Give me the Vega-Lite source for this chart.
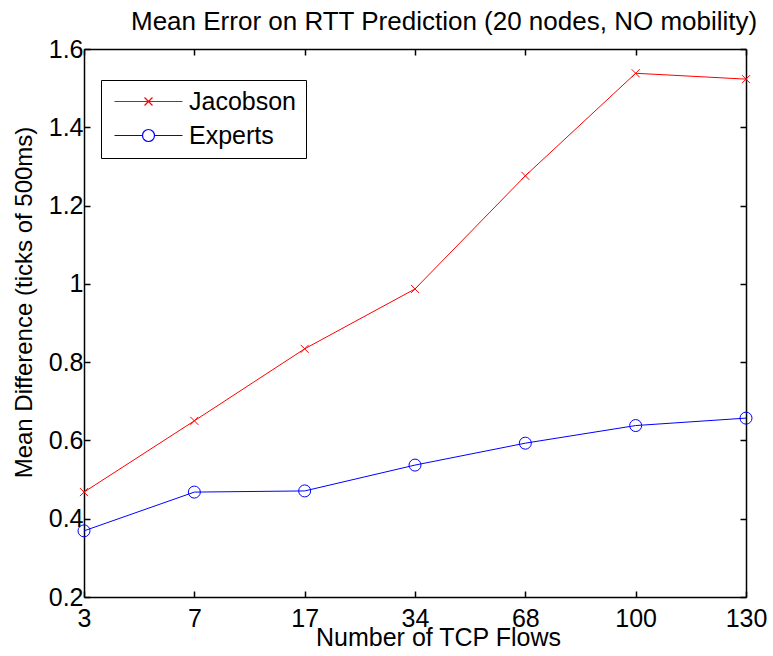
{
  "$schema": "https://vega.github.io/schema/vega-lite/v6.json",
  "autosize": {"type": "none"},
  "padding": {"left": 84, "top": 49, "right": 27, "bottom": 59},
  "width": 662,
  "height": 548,
  "background": "white",
  "title": {
    "text": "Mean Error on RTT Prediction (20 nodes, NO mobility)",
    "anchor": "start",
    "frame": "group",
    "dx": 47,
    "baseline": "alphabetic",
    "offset": -19,
    "font": "Liberation Sans",
    "fontSize": 26,
    "fontWeight": "normal",
    "color": "black"
  },
  "config": {
    "view": {"stroke": null},
    "font": "Liberation Sans",
    "axis": {
      "grid": false,
      "domainColor": "black",
      "domainWidth": 1.5,
      "tickColor": "black",
      "tickWidth": 1.5,
      "tickSize": -6,
      "labelFont": "Liberation Sans",
      "labelFontSize": 25,
      "labelColor": "black",
      "titleFont": "Liberation Sans",
      "titleFontSize": 25,
      "titleFontWeight": "normal",
      "titleColor": "black"
    },
    "legend": {
      "orient": "none",
      "legendX": 17,
      "legendY": 31,
      "strokeColor": "black",
      "fillColor": "white",
      "padding": 9,
      "labelFont": "Liberation Sans",
      "labelFontSize": 25,
      "labelColor": "black",
      "labelOffset": 28,
      "symbolOffset": 26,
      "symbolSize": 484,
      "symbolStrokeWidth": 1.2,
      "rowPadding": 8
    }
  },
  "data": {
    "values": [
      {"flows": "3", "series": "Jacobson", "value": 0.468},
      {"flows": "7", "series": "Jacobson", "value": 0.650},
      {"flows": "17", "series": "Jacobson", "value": 0.834},
      {"flows": "34", "series": "Jacobson", "value": 0.987},
      {"flows": "68", "series": "Jacobson", "value": 1.276},
      {"flows": "100", "series": "Jacobson", "value": 1.538},
      {"flows": "130", "series": "Jacobson", "value": 1.523},
      {"flows": "3", "series": "Experts", "value": 0.369},
      {"flows": "7", "series": "Experts", "value": 0.468},
      {"flows": "17", "series": "Experts", "value": 0.471},
      {"flows": "34", "series": "Experts", "value": 0.537},
      {"flows": "68", "series": "Experts", "value": 0.593},
      {"flows": "100", "series": "Experts", "value": 0.638},
      {"flows": "130", "series": "Experts", "value": 0.657}
    ]
  },
  "layer": [
    {
      "mark": {"type": "line", "strokeWidth": 1},
      "encoding": {
        "x": {
          "field": "flows",
          "type": "ordinal",
          "sort": ["3", "7", "17", "34", "68", "100", "130"],
          "scale": {"type": "point", "padding": 0},
          "axis": {
            "orient": "bottom",
            "labelAngle": 0,
            "labelPadding": 35,
            "labelBaseline": "alphabetic",
            "title": "Number of TCP Flows",
            "titleX": 354,
            "titleY": 48,
            "titleBaseline": "alphabetic",
            "titleAlign": "center",
            "titlePadding": 0
          }
        },
        "y": {
          "field": "value",
          "type": "quantitative",
          "scale": {"domain": [0.2, 1.6], "nice": false, "zero": false},
          "axis": {
            "orient": "left",
            "values": [0.2, 0.4, 0.6, 0.8, 1, 1.2, 1.4, 1.6],
            "format": "~g",
            "labelPadding": 7,
            "title": "Mean Difference (ticks of 500ms)",
            "titleFontSize": 24,
            "titleX": -53,
            "titleY": 253,
            "titleBaseline": "alphabetic",
            "titleAlign": "center",
            "titleAngle": -90
          }
        },
        "color": {
          "field": "series",
          "type": "nominal",
          "scale": {"domain": ["Jacobson", "Experts"], "range": ["#ff0000", "#0000ff"]},
          "legend": {
            "title": null,
            "encode": {
              "symbols": {
                "update": {
                  "shape": {"signal": "datum.value === 'Jacobson' ? 'M-3.09,0L3.09,0M-0.36,-0.36L0.36,0.36M-0.36,0.36L0.36,-0.36' : 'M-3.09,0L-0.545,0M0.545,0L3.09,0M0.545,0A0.545,0.545 0 1 1 -0.545,0A0.545,0.545 0 1 1 0.545,0'"},
                  "fill": {"value": "transparent"}
                }
              }
            }
          }
        },
        "detail": {"field": "series"}
      }
    },
    {
      "transform": [{"filter": "datum.series === 'Jacobson'"}],
      "mark": {"type": "point", "filled": false, "strokeWidth": 1, "opacity": 1, "shape": "M-1,-1L1,1M-1,1L1,-1", "size": 64},
      "encoding": {
        "x": {
          "field": "flows",
          "type": "ordinal",
          "sort": ["3", "7", "17", "34", "68", "100", "130"],
          "axis": {"orient": "top", "labels": false, "title": null}
        },
        "y": {
          "field": "value",
          "type": "quantitative",
          "axis": {"orient": "right", "labels": false, "title": null, "values": [0.2, 0.4, 0.6, 0.8, 1, 1.2, 1.4, 1.6]}
        },
        "color": {"field": "series", "type": "nominal"}
      }
    },
    {
      "transform": [{"filter": "datum.series === 'Experts'"}],
      "mark": {"type": "point", "filled": false, "strokeWidth": 1, "opacity": 1, "shape": "circle", "size": 144},
      "encoding": {
        "x": {
          "field": "flows",
          "type": "ordinal",
          "sort": ["3", "7", "17", "34", "68", "100", "130"],
          "axis": null
        },
        "y": {
          "field": "value",
          "type": "quantitative",
          "axis": null
        },
        "color": {"field": "series", "type": "nominal"}
      }
    }
  ],
  "resolve": {"axis": {"x": "independent", "y": "independent"}}
}
